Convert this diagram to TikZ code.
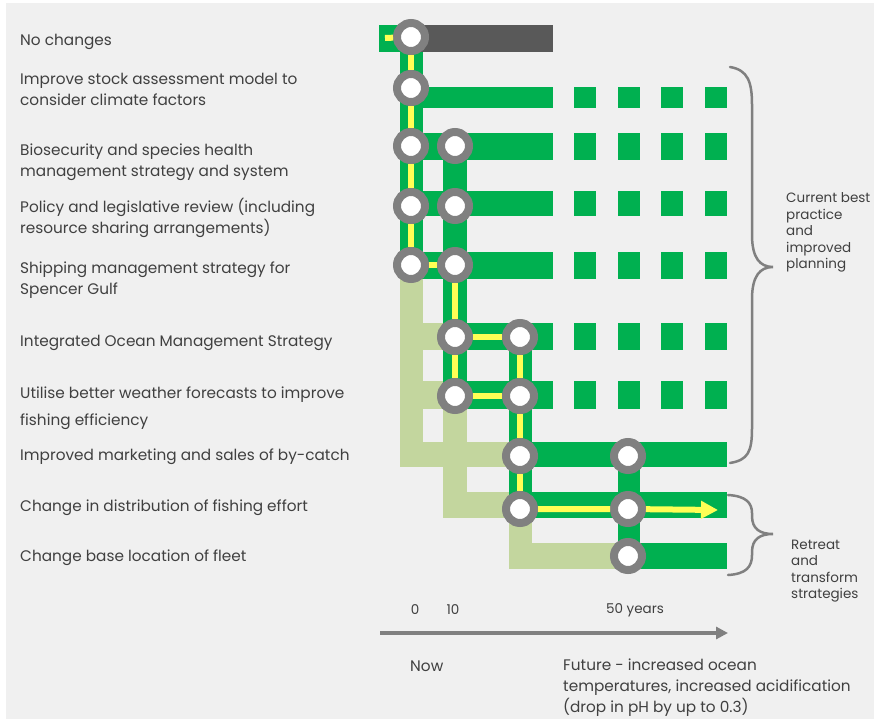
\documentclass[tikz,border=0pt]{standalone}
\usepackage{fontspec}
\setmainfont{Poppins}
\usetikzlibrary{arrows.meta}

\definecolor{panel}{RGB}{240,240,240}
\definecolor{adapt}{RGB}{0,176,80}
\definecolor{later}{RGB}{195,214,158}
\definecolor{stay}{RGB}{89,89,89}
\definecolor{ring}{RGB}{128,128,128}
\definecolor{route}{RGB}{255,255,85}
\definecolor{ink}{RGB}{64,64,64}

\tikzset{
  waypoint/.style={circle,draw=ring,line width=8pt,fill=white,minimum size=28pt,inner sep=0pt},
  trail/.style={draw=route,line width=6pt},
  option/.style={anchor=west,align=left,inner sep=0pt,yshift=-1.5pt},
  brace/.style={draw=ring,line width=2.5pt,line cap=round},
  small/.style={font=\fontsize{13.5}{16.5}\selectfont}
}

\begin{document}
\begin{tikzpicture}[x=1pt,y=-1pt,>=Latex,font=\fontsize{15.3}{21}\selectfont,text=ink]

\useasboundingbox (0,0) rectangle (874,719);
\fill[white] (0,0) rectangle (874,719);
\fill[panel] (6,3) rectangle (874,719);

% Pale links to the later actions
\fill[later] (400,278) rectangle (423,467);
\fill[later] (423,323) rectangle (443,350);
\fill[later] (423,381) rectangle (443,409);
\fill[later] (423,442) rectangle (509,467);
\fill[later] (443,409) rectangle (467,518);
\fill[later] (467,492) rectangle (509,518);
\fill[later] (509,518) rectangle (532,569);
\fill[later] (532,543) rectangle (618,569);

% Vertical trunks
\fill[adapt] (400,25) rectangle (423,278);
\fill[adapt] (443,133) rectangle (467,409);
\fill[adapt] (509,323) rectangle (532,518);
\fill[adapt] (618,442) rectangle (640,569);

% Bars (left/right/top/bottom)
\foreach \l/\r/\t/\b in {379/411/25/52, 411/553/87/108, 411/553/133/160,
    411/553/191/216, 411/553/252/279, 455/553/323/350, 455/553/381/409,
    520/727/442/467, 520/727/492/518, 628/727/543/569}
  \fill[adapt] (\l,\t) rectangle (\r,\b);
\fill[stay] (411,25) rectangle (553,52);

% Dashed continuation
\foreach \t/\b in {87/108, 133/160, 191/216, 252/279, 323/350, 381/409}
  \foreach \l in {574,618,661,705}
    \fill[adapt] (\l,\t) rectangle (\l+22,\b);

% Decision points
\foreach \n/\x/\y in {a1/411/37, a2/411/88, a3/411/146, b3/455/146,
    a4/411/206, b4/455/206, a5/411/265, b5/455/265, b6/455/337, c6/520/337,
    b7/455/396, c7/520/396, c8/520/456, d8/628/456, c9/520/509, d9/628/509,
    d10/628/556}
  \node[waypoint] (\n) at (\x,\y) {};

% Preferred pathway
\coordinate (start) at (385,38);
\coordinate (goal) at (718,510);
\draw[trail] (start) -- (a1);
\draw[trail] (a1) -- (a2) -- (a3) -- (a4) -- (a5) -- (b5) -- (b6) -- (b7);
\draw[trail] (b6) -- (c6) -- (c7) -- (c8) -- (c9);
\draw[trail] (b7) -- (c7);
\draw[trail,-{Triangle[length=17pt,width=17pt,fill=route]}] (c9) -- (d9) -- (goal);

% Options
\node[option] (o1) at (20,40) {No changes};
\node[option] (o2) at (20,87.5) {Improve stock assessment model to\\consider climate factors};
\node[option] (o3) at (20,161) {Biosecurity and species health\\management strategy and system};
\node[option] (o4) at (20,216) {Policy and legislative review (including\\resource sharing arrangements)};
\node[option] (o5) at (20,278.5) {Shipping management strategy for\\Spencer Gulf};
\node[option] (o6) at (20,341) {Integrated Ocean Management Strategy};
\node[option] (o7) at (20,406.5) {Utilise better weather forecasts to improve\\[6pt]fishing efficiency};
\node[option] (o8) at (20,455) {Improved marketing and sales of by-catch};
\node[option] (o9) at (20,506) {Change in distribution of fishing effort};
\node[option] (o10) at (20,556) {Change base location of fleet};

% Braces
\draw[brace] (730,67) .. controls (748,70) and (752,82) .. (752,105) -- (752,235)
  .. controls (752,258) and (760,267) .. (773,267)
  .. controls (760,267) and (752,276) .. (752,299) -- (752,428)
  .. controls (752,452) and (748,460) .. (730,463);
\draw[brace] (728,495) .. controls (746,496) and (752,503) .. (752,513) -- (752,516)
  .. controls (752,529) and (760,534) .. (773,534)
  .. controls (760,534) and (752,539) .. (752,552) -- (752,555)
  .. controls (752,567) and (746,574) .. (728,575);
\node[option,small] (best) at (786,231) {Current best\\practice\\and\\improved\\planning};
\node[option,small] (retreat) at (791,569.5) {Retreat\\and\\transform\\strategies};

% Time axis
\coordinate (t0) at (380,633);
\coordinate (t1) at (728,633);
\draw[ring,line width=4pt,-{Triangle[length=12pt,width=12pt]}] (t0) -- (t1);
\node[small] (y0) at (415,610) {0};
\node[small] (y10) at (453,610) {10};
\node[small] (y50) at (635,610) {50 years};
\node[option] (now) at (410,665) {Now};
\node[option] (future) at (563,686) {Future - increased ocean\\temperatures, increased acidification\\(drop in pH by up to 0.3)};

\end{tikzpicture}
\end{document}
